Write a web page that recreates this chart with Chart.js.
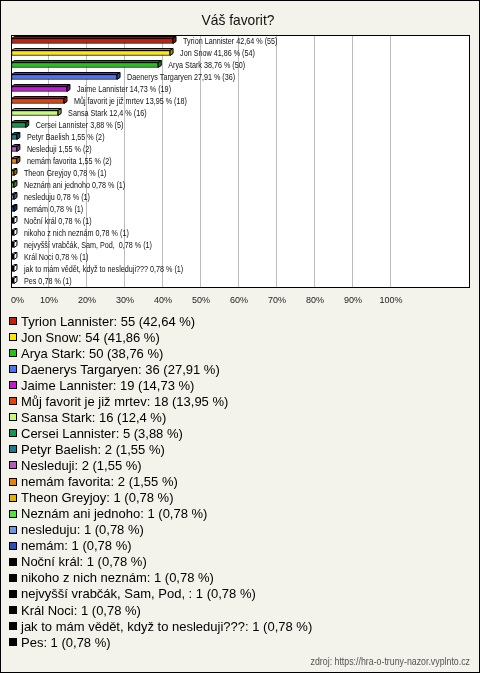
<!DOCTYPE html>
<html><head><meta charset="utf-8">
<script src="https://cdn.jsdelivr.net/npm/chart.js@4/dist/chart.umd.min.js"></script>
<style>html,body{margin:0;padding:0;background:#f3f2eb;}canvas{display:block}</style>
</head><body>
<canvas id="c" width="480" height="673"></canvas>
<script>
const chartTitle = "Váš favorit?";
const sourceText = "zdroj: https://hra-o-truny-nazor.vyplnto.cz";
const categories = [
  "Tyrion Lannister", "Jon Snow", "Arya Stark", "Daenerys Targaryen", "Jaime Lannister",
  "Můj favorit je již mrtev", "Sansa Stark", "Cersei Lannister", "Petyr Baelish", "Nesleduji",
  "nemám favorita", "Theon Greyjoy", "Neznám ani jednoho", "nesleduju", "nemám",
  "Noční král", "nikoho z nich neznám", "nejvyšší vrabčák, Sam, Pod, ", "Král Noci",
  "jak to mám vědět, když to nesleduji???", "Pes"
];
const counts = [55, 54, 50, 36, 19, 18, 16, 5, 2, 2, 2, 1, 1, 1, 1, 1, 1, 1, 1, 1, 1];
const percents = [42.64, 41.86, 38.76, 27.91, 14.73, 13.95, 12.4, 3.88, 1.55, 1.55, 1.55,
  0.78, 0.78, 0.78, 0.78, 0.78, 0.78, 0.78, 0.78, 0.78, 0.78];
const barColors = [
  "#c4200e", "#ffe60a", "#22c41a", "#4f73f0", "#c41ad4", "#e24210", "#c8fa78", "#159650",
  "#1f7a8c", "#b45ec0", "#e8820c", "#e3b20a", "#55e23a", "#6f98e0", "#2b4fb4",
  "#000000", "#000000", "#000000", "#000000", "#000000", "#000000"
];
const tickValues = [0, 10, 20, 30, 40, 50, 60, 70, 80, 90, 100];

const FONT = '"Liberation Sans", Arial, Helvetica, sans-serif';
const fmt = v => String(v).replace('.', ',');

function darker(hex, f) {
  const n = parseInt(hex.slice(1), 16);
  const r = Math.round(((n >> 16) & 255) * f), g = Math.round(((n >> 8) & 255) * f), b = Math.round((n & 255) * f);
  return `rgb(${r},${g},${b})`;
}
function squeezeText(ctx, text, x, y, sx, align) {
  ctx.save();
  const w = ctx.measureText(text).width * sx;
  let x0 = x;
  if (align === 'right') x0 = x - w;
  else if (align === 'center') x0 = x - w / 2;
  ctx.translate(x0, y);
  ctx.scale(sx, 1);
  ctx.textAlign = 'left';
  ctx.fillText(text, 0, 0);
  ctx.restore();
}

const deco = {
  id: 'deco',
  beforeDraw(chart) {
    const { ctx, chartArea: a } = chart;
    ctx.save();
    ctx.fillStyle = '#f3f2eb';
    ctx.fillRect(0, 0, chart.width, chart.height);
    ctx.fillStyle = '#ffffff';
    ctx.fillRect(a.left, a.top, a.right - a.left, a.bottom - a.top);
    ctx.restore();
  },
  afterDatasetsDraw(chart) {
    const { ctx } = chart;
    const meta = chart.getDatasetMeta(0);
    const dx = 3, dy = 2;
    ctx.save();
    ctx.lineWidth = 1;
    ctx.strokeStyle = '#000';
    meta.data.forEach((el, i) => {
      const x0 = el.base, x1 = el.x;
      const yT = el.y - el.height / 2, yB = el.y + el.height / 2;
      const shade = barColors[i] === '#000000' ? '#ffffff' : darker(barColors[i], 0.62);
      // top face
      ctx.beginPath();
      ctx.moveTo(x0, yT); ctx.lineTo(x0 + dx, yT - dy); ctx.lineTo(x1 + dx, yT - dy); ctx.lineTo(x1, yT); ctx.closePath();
      ctx.fillStyle = shade; ctx.fill(); ctx.stroke();
      // right face
      ctx.beginPath();
      ctx.moveTo(x1, yT); ctx.lineTo(x1 + dx, yT - dy); ctx.lineTo(x1 + dx, yB - dy); ctx.lineTo(x1, yB); ctx.closePath();
      ctx.fillStyle = shade; ctx.fill(); ctx.stroke();
      // value label
      ctx.fillStyle = '#111';
      ctx.font = '9px ' + FONT;
      ctx.textBaseline = 'alphabetic';
      squeezeText(ctx, `${categories[i]} ${fmt(percents[i])} % (${counts[i]})`, x1 + 10, el.y + 3.3, 0.8, 'left');
    });
    ctx.restore();
  },
  afterDraw(chart) {
    const { ctx, chartArea: a } = chart;
    const xs = chart.scales.x;
    ctx.save();
    // plot border
    ctx.strokeStyle = '#000'; ctx.lineWidth = 1;
    ctx.strokeRect(Math.round(a.left) + 0.5, Math.round(a.top) + 0.5, Math.round(a.right - a.left) - 1, Math.round(a.bottom - a.top));
    // outer frame
    ctx.strokeRect(0.5, 0.5, chart.width - 1, chart.height - 1);
    // title
    ctx.fillStyle = '#111';
    ctx.font = '15px ' + FONT;
    ctx.textBaseline = 'alphabetic';
    squeezeText(ctx, chartTitle, 238, 25, 0.92, 'center');
    // x tick labels
    ctx.font = '9px ' + FONT;
    ctx.fillStyle = '#222';
    tickValues.forEach(v => {
      const px = xs.getPixelForValue(v);
      const t = v + '%';
      if (v === 0) { ctx.textAlign = 'left'; ctx.fillText(t, px, 303); }
      else { ctx.textAlign = 'center'; ctx.fillText(t, px, 303); }
    });
    // legend
    ctx.font = '13px ' + FONT;
    ctx.textAlign = 'left';
    categories.forEach((c, i) => {
      const y = 321 + 16.05 * i;
      ctx.fillStyle = barColors[i];
      ctx.fillRect(9, Math.round(y - 4), 8, 8);
      ctx.strokeStyle = '#000';
      ctx.strokeRect(9.5, Math.round(y - 4) + 0.5, 7, 7);
      ctx.fillStyle = '#000';
      ctx.fillText(`${c}: ${counts[i]} (${fmt(percents[i])} %)`, 21, y + 4.6);
    });
    // source
    ctx.font = '11px ' + FONT;
    ctx.fillStyle = '#555';
    squeezeText(ctx, sourceText, 470, 665, 0.8, 'right');
    ctx.restore();
  }
};

new Chart(document.getElementById('c'), {
  type: 'bar',
  data: {
    labels: categories,
    datasets: [{
      data: percents,
      backgroundColor: barColors,
      borderColor: '#000',
      borderWidth: 1,
      borderSkipped: false,
      barThickness: 5
    }]
  },
  options: {
    indexAxis: 'y',
    responsive: false,
    animation: false,
    devicePixelRatio: 1,
    layout: { padding: { left: 11, right: 10, top: 35, bottom: 386 } },
    plugins: { legend: { display: false }, tooltip: { enabled: false }, title: { display: false } },
    scales: {
      x: {
        min: 0, max: 120.79,
        ticks: { display: false, stepSize: 10 },
        grid: {
          drawTicks: false,
          lineWidth: 1,
          color: c => (c.tick && c.tick.value > 0 && c.tick.value <= 100) ? '#bcbcbc' : 'rgba(0,0,0,0)'
        },
        border: { display: false }
      },
      y: { display: false }
    }
  },
  plugins: [deco]
});
</script>
</body></html>
